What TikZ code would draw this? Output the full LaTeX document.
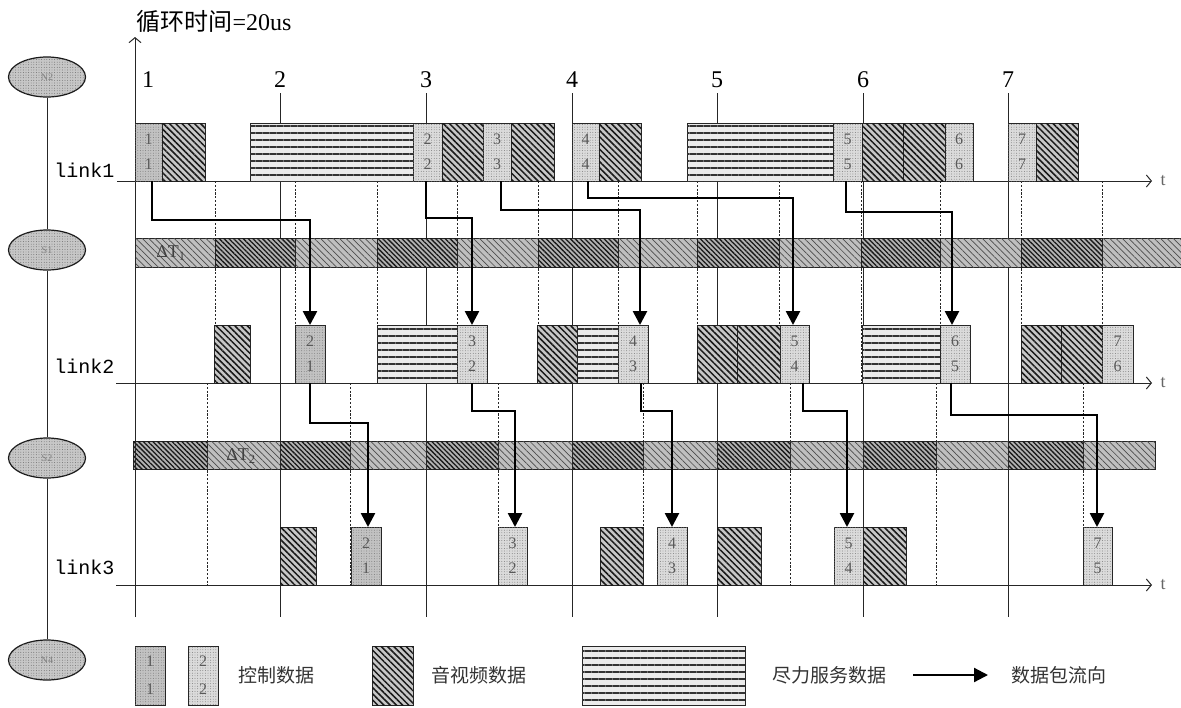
\documentclass[tikz,border=0pt]{standalone}
\usepackage{fontspec}
\setmainfont{Liberation Serif}
\newfontfamily\cjk{Noto Sans CJK SC}
\newfontfamily\monof{Liberation Mono}
\usetikzlibrary{patterns.meta,arrows.meta,shapes.geometric,calc}
\tikzset{
  pk/.style={draw=black!85, line width=0.8pt, anchor=north west, minimum height=58pt, inner sep=0pt, outer sep=0pt},
  ctrl/.style={pk, fill=black!14, postaction={pattern={Dots[distance=2.6pt,radius=0.45pt]}, pattern color=black!55}, align=center, font=\fontsize{16}{25}\selectfont, text=black!65},
  ctrlk/.style={ctrl, fill=black!24},
  av/.style={pk, fill=black!22, postaction={pattern={Lines[angle=-45,distance=4.4pt,line width=1.5pt]}, pattern color=black!90}},
  be/.style={pk, fill=black!8, postaction={pattern={Lines[angle=0,distance=7pt,line width=1.6pt]}, pattern color=black!80}},
  bandL/.style={draw=black!85, line width=0.8pt, fill=black!25, postaction={pattern={Lines[angle=-45,distance=4.5pt,line width=0.7pt]}, pattern color=black!70}},
  bandD/.style={draw=black!85, line width=0.8pt, fill=black!30, postaction={pattern={Lines[angle=-45,distance=3.4pt,line width=1.3pt]}, pattern color=black!90}},
  ell/.style={ellipse, draw=black!90, line width=1.2pt, minimum width=77pt, minimum height=40pt, inner sep=0pt, fill=black!22, postaction={pattern={Dots[distance=2.6pt,radius=0.45pt]}, pattern color=black!60}, font=\fontsize{10}{10}\selectfont, text=black!50},
  dline/.style={draw=black!85, line width=0.9pt, dash pattern=on 2.2pt off 1.6pt},
  sline/.style={draw=black!85, line width=0.9pt},
  axis/.style={draw=black!85, line width=0.9pt, -{Straight Barb[length=5pt,width=12pt,line width=1pt]}},
  flow/.style={draw=black, line width=2.6pt, -{Triangle[length=14pt,width=14pt]}},
  num/.style={font=\fontsize{24}{24}\selectfont},
  lnk/.style={font=\monof\fontsize{20}{20}\selectfont, anchor=east},
  lab/.style={font=\cjk\fontsize{19}{19}\selectfont, text=black!80},
  tlab/.style={font=\fontsize{18}{18}\selectfont, text=black!60, anchor=west}
}
\begin{document}
\begin{tikzpicture}[x=1pt,y=-1pt]
\useasboundingbox (0,0) rectangle (1181,707);

% ellipses on the left
\node[ell] (N2) at (47,77) {N2};
\node[ell] (S1) at (47,250) {S1};
\node[ell] (S2) at (47,458) {S2};
\node[ell] (N4) at (47,660) {N4};
\draw[black!85, line width=0.9pt] (N2) -- (S1) -- (S2) -- (N4);

% title
\node[anchor=west, font=\fontsize{24}{24}\selectfont] (title) at (133,21) {{\cjk 循环时间}=20us};

% cycle numbers and solid lines
\foreach \x/\n in {148/1,280/2,426/3,572/4,717/5,863/6,1008/7}{
  \node[num] (n\n) at (\x,80) {\n};
}
\foreach \x in {280,426,572,717,863,1008}{
  \draw[sline] (\x,93) -- (\x,617);
}
% dashed lines link1 -> link2
\foreach \x in {215,295,377,457,538,618,697,779,861,940,1021,1102}{
  \draw[dline] (\x,181) -- (\x,383);
}
% dashed lines link2 -> link3
\foreach \x in {207,350,498,643,790,936,1083}{
  \draw[dline] (\x,383) -- (\x,585);
}

% Delta T1 band
\foreach \a/\b in {135/215,295/377,457/538,618/697,779/861,940/1021,1102/1181}{
  \draw[bandL] (\a,238) rectangle (\b,267);
}
\foreach \a/\b in {215/295,377/457,538/618,697/779,861/940,1021/1102}{
  \draw[bandD] (\a,238) rectangle (\b,267);
}
\node[font=\fontsize{18}{18}\selectfont, text=black!75] (dt1) at (171,253) {ΔT\textsubscript{1}};
% Delta T2 band
\foreach \a/\b in {133/207,280/350,426/498,572/643,717/790,863/936,1008/1083}{
  \draw[bandD] (\a,441) rectangle (\b,469);
}
\foreach \a/\b in {207/280,350/426,498/572,643/717,790/863,936/1008,1083/1155}{
  \draw[bandL] (\a,441) rectangle (\b,469);
}
\node[font=\fontsize{18}{18}\selectfont, text=black!75] (dt2) at (241,456) {ΔT\textsubscript{2}};

% axes
\coordinate (yb) at (135,617);
\coordinate (yt) at (135,37);
\draw[axis] (yb) -- (yt);
\coordinate (l1s) at (117,181); \coordinate (l1e) at (1152,181);
\coordinate (l2s) at (116,383); \coordinate (l2e) at (1152,383);
\coordinate (l3s) at (116,585); \coordinate (l3e) at (1152,585);
\draw[axis] (l1s) -- (l1e);
\draw[axis] (l2s) -- (l2e);
\draw[axis] (l3s) -- (l3e);
\node[tlab] (t1) at (1157,181) {t};
\node[tlab] (t2) at (1157,383) {t};
\node[tlab] (t3) at (1157,585) {t};
\node[lnk] (L1) at (118,170) {link1};
\node[lnk] (L2) at (118,366) {link2};
\node[lnk] (L3) at (118,567) {link3};

% link1 packets
\node[ctrlk, minimum width=27pt] (a1) at (135,123) {1\\1};
\node[av, minimum width=43pt] (v11) at (162,123) {};
\node[be, minimum width=163pt] (e11) at (250,123) {};
\node[ctrl, minimum width=29pt] (a2) at (413,123) {2\\2};
\node[av, minimum width=41pt] (v12) at (442,123) {};
\node[ctrl, minimum width=28pt] (a3) at (483,123) {3\\3};
\node[av, minimum width=43pt] (v13) at (511,123) {};
\node[ctrl, minimum width=27pt] (a4) at (572,123) {4\\4};
\node[av, minimum width=42pt] (v14) at (599,123) {};
\node[be, minimum width=146pt] (e12) at (687,123) {};
\node[ctrl, minimum width=29pt] (a5) at (833,123) {5\\5};
\node[av, minimum width=41pt] (v15) at (862,123) {};
\node[av, minimum width=42pt] (v16) at (903,123) {};
\node[ctrl, minimum width=28pt] (a6) at (945,123) {6\\6};
\node[ctrl, minimum width=28pt] (a7) at (1008,123) {7\\7};
\node[av, minimum width=42pt] (v17) at (1036,123) {};

% link2 packets
\node[av, minimum width=36pt] (v21) at (214,325) {};
\node[ctrlk, minimum width=30pt] (b2) at (295,325) {2\\1};
\node[be, minimum width=80pt] (e21) at (377,325) {};
\node[ctrl, minimum width=30pt] (b3) at (457,325) {3\\2};
\node[av, minimum width=40pt] (v22) at (537,325) {};
\node[be, minimum width=41pt] (e22) at (577,325) {};
\node[ctrl, minimum width=30pt] (b4) at (618,325) {4\\3};
\node[av, minimum width=40pt] (v23) at (697,325) {};
\node[av, minimum width=43pt] (v24) at (737,325) {};
\node[ctrl, minimum width=29pt] (b5) at (780,325) {5\\4};
\node[be, minimum width=78pt] (e23) at (862,325) {};
\node[ctrl, minimum width=30pt] (b6) at (940,325) {6\\5};
\node[av, minimum width=40pt] (v25) at (1021,325) {};
\node[av, minimum width=41pt] (v26) at (1061,325) {};
\node[ctrl, minimum width=31pt] (b7) at (1102,325) {7\\6};

% link3 packets
\node[av, minimum width=36pt] (v31) at (280,527) {};
\node[ctrlk, minimum width=30pt] (c2) at (351,527) {2\\1};
\node[ctrl, minimum width=29pt] (c3) at (498,527) {3\\2};
\node[av, minimum width=43pt] (v32) at (600,527) {};
\node[ctrl, minimum width=30pt] (c4) at (657,527) {4\\3};
\node[av, minimum width=44pt] (v33) at (717,527) {};
\node[ctrl, minimum width=29pt] (c5) at (834,527) {5\\4};
\node[av, minimum width=43pt] (v34) at (863,527) {};
\node[ctrl, minimum width=29pt] (c7) at (1083,527) {7\\5};

% flows link1 -> link2
\draw[flow] ([xshift=17pt]a1.south west) -- ++(0,39) -| ([xshift=15pt]b2.north west);
\draw[flow] ([xshift=13pt]a2.south west) -- ++(0,37) -| ([xshift=15pt]b3.north west);
\draw[flow] ([xshift=18pt]a3.south west) -- ++(0,29) -| ([xshift=22pt]b4.north west);
\draw[flow] ([xshift=16pt]a4.south west) -- ++(0,17) -| ([xshift=13pt]b5.north west);
\draw[flow] ([xshift=13pt]a5.south west) -- ++(0,31) -| ([xshift=12pt]b6.north west);
% flows link2 -> link3
\draw[flow] ([xshift=15pt]b2.south west) -- ++(0,40) -| ([xshift=17pt]c2.north west);
\draw[flow] ([xshift=15pt]b3.south west) -- ++(0,28) -| ([xshift=17pt]c3.north west);
\draw[flow] ([xshift=23pt]b4.south west) -- ++(0,28) -| ([xshift=15pt]c4.north west);
\draw[flow] ([xshift=23pt]b5.south west) -- ++(0,28) -| ([xshift=13pt]c5.north west);
\draw[flow] ([xshift=11pt]b6.south west) -- ++(0,32) -| ([xshift=14pt]c7.north west);

% legend
\node[ctrlk, minimum width=30pt, minimum height=59pt, font=\fontsize{16}{28}\selectfont] (g1) at (135,646) {1\\1};
\node[ctrl, minimum width=30pt, minimum height=59pt, font=\fontsize{16}{28}\selectfont] (g2) at (188,646) {2\\2};
\node[lab] (g2t) at (276,675) {控制数据};
\node[av, minimum width=41pt, minimum height=59pt] (g3) at (372,646) {};
\node[lab] (g3t) at (479,675) {音视频数据};
\node[be, minimum width=163pt, minimum height=59pt] (g4) at (582,646) {};
\node[lab] (g4t) at (829,675) {尽力服务数据};
\coordinate (g5a) at (913,675);
\coordinate (g5b) at (988,675);
\draw[flow, line width=2.2pt] (g5a) -- (g5b);
\node[lab] (g5t) at (1059,675) {数据包流向};
\end{tikzpicture}
\end{document}
